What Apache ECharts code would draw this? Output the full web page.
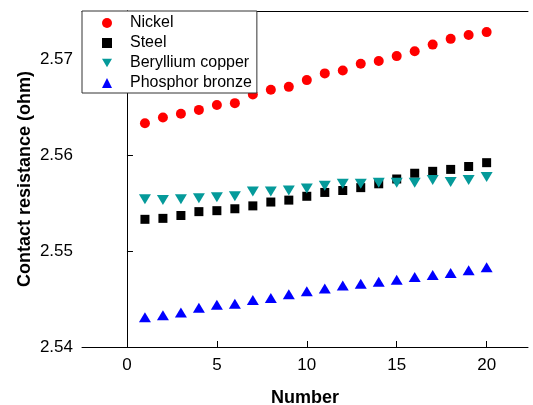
<!DOCTYPE html>
<html>
<head>
<meta charset="utf-8">
<script src="https://cdn.jsdelivr.net/npm/echarts@6/dist/echarts.min.js"></script>
<style>
html, body { margin: 0; padding: 0; background: #fff; }
#chart { width: 533px; height: 405px; }
</style>
</head>
<body>
<div id="chart"></div>
<script>
var numbers = [1, 2, 3, 4, 5, 6, 7, 8, 9, 10, 11, 12, 13, 14, 15, 16, 17, 18, 19, 20];
var nickel = [2.5633, 2.5639, 2.5643, 2.5647, 2.5652, 2.5654, 2.5663, 2.5668, 2.5671, 2.5678,
    2.5685, 2.5688, 2.5695, 2.5698, 2.5703, 2.5708, 2.5715, 2.5721, 2.5725, 2.5728];
var steel = [2.5533, 2.5534, 2.5537, 2.5541, 2.5542, 2.5544, 2.5547, 2.5551, 2.5553, 2.5557,
    2.5561, 2.5563, 2.5566, 2.5570, 2.5575, 2.5581, 2.5583, 2.5585, 2.5588, 2.5592];
var berylliumCopper = [2.5554, 2.5553, 2.5554, 2.5555, 2.5556, 2.5557, 2.5562, 2.5562, 2.5563, 2.5565,
    2.5568, 2.5570, 2.5570, 2.5571, 2.5571, 2.5571, 2.5574, 2.5572, 2.5574, 2.5577];
var phosphorBronze = [2.5431, 2.5433, 2.5436, 2.5441, 2.5444, 2.5445, 2.5449, 2.5451, 2.5455, 2.5458,
    2.5461, 2.5464, 2.5466, 2.5468, 2.5470, 2.5473, 2.5475, 2.5477, 2.5480, 2.5483];

function pairs(ys) {
    return numbers.map(function (x, i) { return [x, ys[i]]; });
}

var font = 'Liberation Sans, Arial, sans-serif';
// downward triangle, used by the series and its legend entry
var downTriangle = 'path://M0,0L12,0L6,10Z';

var chart = echarts.init(document.getElementById('chart'));
var option = {
    animation: false,
    backgroundColor: '#fff',
    grid: {
        left: 82,
        top: 11,
        right: 5,
        bottom: 58,
        outerBoundsMode: 'none',
        containLabel: false
    },
    legend: {
        orient: 'vertical',
        left: 82,
        top: 11,
        padding: [4, 5, 2, 20],
        itemWidth: 10,
        itemHeight: 10,
        itemGap: 4,
        selectedMode: false,
        backgroundColor: '#fff',
        borderColor: '#333',
        borderWidth: 1,
        textStyle: {
            fontFamily: font,
            fontSize: 16,
            lineHeight: 16,
            padding: [0, 0, 0, 13],
            color: '#000'
        },
        data: ['Nickel', 'Steel', 'Beryllium copper', 'Phosphor bronze']
    },
    xAxis: [
        {
            type: 'value',
            min: -2.5,
            max: 22.3,
            splitNumber: 5,
            name: 'Number',
            nameLocation: 'middle',
            nameGap: 42,
            nameMoveOverlap: false,
            nameTextStyle: {
                fontFamily: font,
                fontSize: 18,
                fontWeight: 'bold',
                color: '#000'
            },
            axisLine: { lineStyle: { color: '#000', width: 1 } },
            axisTick: { inside: true, length: 6, lineStyle: { color: '#000' } },
            axisLabel: {
                showMinLabel: false,
                showMaxLabel: false,
                margin: 10,
                fontFamily: font,
                fontSize: 17,
                color: '#000'
            },
            splitLine: { show: false }
        },
        {
            type: 'value',
            position: 'top',
            min: -2.5,
            max: 22.3,
            axisLine: { lineStyle: { color: '#000', width: 1 } },
            axisTick: { show: false },
            axisLabel: { show: false },
            splitLine: { show: false }
        }
    ],
    yAxis: [
        {
            type: 'value',
            min: 2.54,
            max: 2.575,
            splitNumber: 4,
            name: 'Contact resistance (ohm)',
            nameLocation: 'middle',
            nameGap: 48,
            nameMoveOverlap: false,
            nameTextStyle: {
                fontFamily: font,
                fontSize: 18,
                fontWeight: 'bold',
                color: '#000'
            },
            axisLine: { lineStyle: { color: '#000', width: 1 } },
            axisTick: { inside: true, length: 6, lineStyle: { color: '#000' } },
            axisLabel: {
                showMaxLabel: false,
                margin: 9,
                fontFamily: font,
                fontSize: 17,
                color: '#000',
                formatter: function (v) { return v.toFixed(2); }
            },
            splitLine: { show: false }
        },
        {
            type: 'value',
            position: 'right',
            min: 2.54,
            max: 2.575,
            axisLine: { lineStyle: { color: '#000', width: 1 } },
            axisTick: { show: false },
            axisLabel: { show: false },
            splitLine: { show: false }
        }
    ],
    series: [
        {
            name: 'Nickel',
            type: 'scatter',
            symbol: 'circle',
            symbolSize: 10,
            itemStyle: { color: '#ff0000', opacity: 1 },
            data: pairs(nickel)
        },
        {
            name: 'Steel',
            type: 'scatter',
            symbol: 'rect',
            symbolSize: 9,
            itemStyle: { color: '#000000', opacity: 1 },
            data: pairs(steel)
        },
        {
            name: 'Beryllium copper',
            type: 'scatter',
            symbol: downTriangle,
            symbolSize: [12, 10],
            itemStyle: { color: '#059a9a', opacity: 1 },
            data: pairs(berylliumCopper)
        },
        {
            name: 'Phosphor bronze',
            type: 'scatter',
            symbol: 'triangle',
            symbolSize: [12, 10],
            itemStyle: { color: '#0000ff', opacity: 1 },
            data: pairs(phosphorBronze)
        }
    ]
};
chart.setOption(option);
</script>
</body>
</html>
